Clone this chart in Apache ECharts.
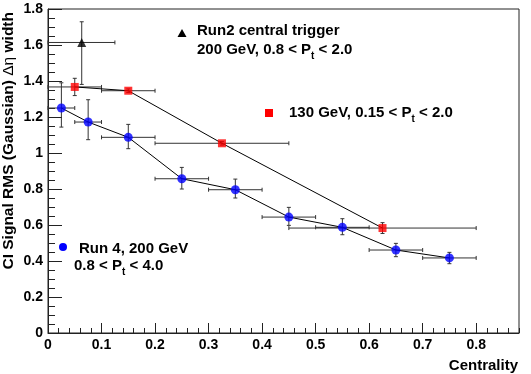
<!DOCTYPE html>
<html>
<head>
<meta charset="utf-8">
<script src="https://cdn.jsdelivr.net/npm/echarts@6/dist/echarts.min.js"></script>
<style>
html,body{margin:0;padding:0;background:#fff;}
#chart{width:531px;height:374px;}
</style>
</head>
<body>
<div id="chart"></div>
<script>
// ---- Data ----
// Run 4, 200 GeV, 0.8 < Pt < 4.0 (blue circles)
const run4X    = [0.025, 0.075, 0.15, 0.25, 0.35, 0.45, 0.55, 0.65, 0.75];
const run4Y    = [1.25, 1.172, 1.087, 0.857, 0.796, 0.644, 0.587, 0.461, 0.417];
const run4YLo  = [1.144, 1.074, 1.024, 0.80, 0.75, 0.598, 0.546, 0.424, 0.385];
const run4YHi  = [1.39, 1.296, 1.159, 0.92, 0.855, 0.698, 0.635, 0.498, 0.448];
const run4XLo  = [0, 0.05, 0.1, 0.2, 0.3, 0.4, 0.5, 0.6, 0.7];
const run4XHi  = [0.05, 0.1, 0.2, 0.3, 0.4, 0.5, 0.6, 0.7, 0.8];

// 130 GeV, 0.15 < Pt < 2.0 (red squares)
const g130X   = [0.05, 0.15, 0.325, 0.625];
const g130Y   = [1.367, 1.346, 1.054, 0.583];
const g130YLo = [1.319, 1.336, 1.044, 0.553];
const g130YHi = [1.415, 1.356, 1.064, 0.613];
const g130XLo = [0, 0.1, 0.2, 0.45];
const g130XHi = [0.1, 0.2, 0.45, 0.8];

// Run2 central trigger, 200 GeV, 0.8 < Pt < 2.0 (black triangle)
const run2X   = [0.063];
const run2Y   = [1.614];
const run2YLo = [1.381];
const run2YHi = [1.729];
const run2XLo = [0];
const run2XHi = [0.125];

// Axis ticks
const xMin = 0, xMax = 0.88, xMajor = 0.1, xMinor = 0.02;
const yMin = 0, yMax = 1.8, yMajor = 0.2;

function pts(xs, ys) { return xs.map((x, i) => [x, ys[i]]); }
function errs(xs, ys, xl, xh, yl, yh) { return xs.map((x, i) => [x, ys[i], xl[i], xh[i], yl[i], yh[i]]); }

const FONT = 'Liberation Sans, Arial, Helvetica, sans-serif';
const AX = '#222';
const ERR = '#333';

function renderErr(params, api) {
  const x = api.value(0), y = api.value(1);
  const c = api.coord([x, y]);
  const l = api.coord([api.value(2), y]);
  const r = api.coord([api.value(3), y]);
  const lo = api.coord([x, api.value(4)]);
  const hi = api.coord([x, api.value(5)]);
  const cap = 2;
  const st = { stroke: ERR, lineWidth: 1 };
  const ln = (x1, y1, x2, y2) => ({ type: 'line', shape: { x1, y1, x2, y2 }, style: st });
  return {
    type: 'group',
    children: [
      ln(l[0], c[1], r[0], c[1]),
      ln(c[0], hi[1], c[0], lo[1]),
      ln(l[0], c[1] - cap, l[0], c[1] + cap),
      ln(r[0], c[1] - cap, r[0], c[1] + cap),
      ln(c[0] - cap, hi[1], c[0] + cap, hi[1]),
      ln(c[0] - cap, lo[1], c[0] + cap, lo[1])
    ]
  };
}

const chart = echarts.init(document.getElementById('chart'), null, { renderer: 'canvas' });

const labelStyle = { fontFamily: FONT, fontWeight: 'bold', fontSize: 14, color: '#000' };
const subRich = {
  n: { fontFamily: FONT, fontWeight: 'bold', fontSize: 15, fill: '#000' },
  s: { fontFamily: FONT, fontWeight: 'bold', fontSize: 10, fill: '#000', padding: [12, 0, 0, 0] }
};

function txt(x, y, text, rich) {
  return {
    type: 'text', x: x, y: y, z: 100,
    style: { text: text, fontFamily: FONT, fontWeight: 'bold', fontSize: 15, fill: '#000',
      verticalAlign: 'top', align: 'left', rich: rich }
  };
}

chart.setOption({
  animation: false,
  backgroundColor: '#fff',
  grid: { left: 48, top: 9, right: 12, bottom: 41, show: true, borderColor: AX, borderWidth: 1, backgroundColor: 'transparent' },
  xAxis: [
    {
      type: 'value', min: xMin, max: xMax, interval: xMajor, position: 'bottom',
      axisLine: { show: true, onZero: false, lineStyle: { color: AX, width: 1 } },
      axisTick: { show: true, inside: true, length: 10, lineStyle: { color: AX } },
      axisLabel: Object.assign({ margin: 5, showMaxLabel: false }, labelStyle),
      splitLine: { show: false }
    },
    {
      type: 'value', min: xMin, max: xMax, interval: xMinor, position: 'bottom',
      axisLine: { show: false },
      axisTick: { show: true, inside: true, length: 5, lineStyle: { color: AX } },
      axisLabel: { show: false },
      splitLine: { show: false }
    }
  ],
  yAxis: [
    {
      type: 'value', min: yMin, max: yMax, interval: yMajor,
      axisLine: { show: true, onZero: false, lineStyle: { color: AX, width: 1 } },
      axisTick: { show: true, inside: true, length: 14, lineStyle: { color: AX } },
      minorTick: { show: true, splitNumber: 4, length: 7, lineStyle: { color: AX } },
      axisLabel: Object.assign({ margin: 5 }, labelStyle),
      splitLine: { show: false }
    }
  ],
  series: [
    { name: 'Run 4 errors', type: 'custom', renderItem: renderErr, data: errs(run4X, run4Y, run4XLo, run4XHi, run4YLo, run4YHi), encode: { x: 0, y: 1 }, z: 1, silent: true },
    { name: '130 errors', type: 'custom', renderItem: renderErr, data: errs(g130X, g130Y, g130XLo, g130XHi, g130YLo, g130YHi), encode: { x: 0, y: 1 }, z: 1, silent: true },
    { name: 'Run2 errors', type: 'custom', renderItem: renderErr, data: errs(run2X, run2Y, run2XLo, run2XHi, run2YLo, run2YHi), encode: { x: 0, y: 1 }, z: 1, silent: true },
    { name: 'Run 4 line', type: 'line', data: pts(run4X, run4Y), symbol: 'none', lineStyle: { color: '#000', width: 1 }, z: 2 },
    { name: '130 line', type: 'line', data: pts(g130X, g130Y), symbol: 'none', lineStyle: { color: '#000', width: 1 }, z: 2 },
    { name: 'Run 4, 200 GeV', type: 'scatter', data: pts(run4X, run4Y), symbol: 'circle', symbolSize: 9, itemStyle: { color: '#0000ff' }, z: 3 },
    { name: '130 GeV', type: 'scatter', data: pts(g130X, g130Y), symbol: 'rect', symbolSize: 8, itemStyle: { color: '#ff0000' }, z: 3 },
    { name: 'Run2 central trigger', type: 'scatter', data: pts(run2X, run2Y), symbol: 'triangle', symbolSize: 9, itemStyle: { color: '#000' }, z: 3 }
  ],
  graphic: [
    // legend markers
    { type: 'polygon', z: 100, shape: { points: [[182, 29], [177.5, 37], [186.5, 37]] }, style: { fill: '#000' } },
    { type: 'rect', z: 100, shape: { x: 265, y: 109, width: 8, height: 8 }, style: { fill: '#ff0000' } },
    { type: 'circle', z: 100, shape: { cx: 63, cy: 247, r: 4 }, style: { fill: '#0000ff' } },
    // legend texts
    txt(197, 23, 'Run2 central trigger'),
    txt(197, 39, '{n|200 GeV, 0.8 < P}{s|t}{n| < 2.0}', subRich),
    txt(289, 102, '{n|130 GeV, 0.15 < P}{s|t}{n| < 2.0}', subRich),
    txt(79, 241, 'Run 4, 200 GeV'),
    txt(74, 255, '{n|0.8 < P}{s|t}{n| < 4.0}', subRich),
    // axis titles
    { type: 'text', z: 100, x: 518, y: 358, style: { text: 'Centrality', fontFamily: FONT, fontWeight: 'bold', fontSize: 15, fill: '#000', align: 'right', verticalAlign: 'top' } },
    { type: 'text', z: 100, x: 9, y: 12, rotation: Math.PI / 2,
      style: { text: '{b|CI Signal RMS (Gaussian) }{r|\u0394\u03b7}{b| width}', align: 'right', verticalAlign: 'middle',
        rich: { b: { fontFamily: FONT, fontWeight: 'bold', fontSize: 15.5, fill: '#000' }, r: { fontFamily: FONT, fontWeight: 'normal', fontSize: 15.5, fill: '#000' } } } }
  ]
});
</script>
</body>
</html>
